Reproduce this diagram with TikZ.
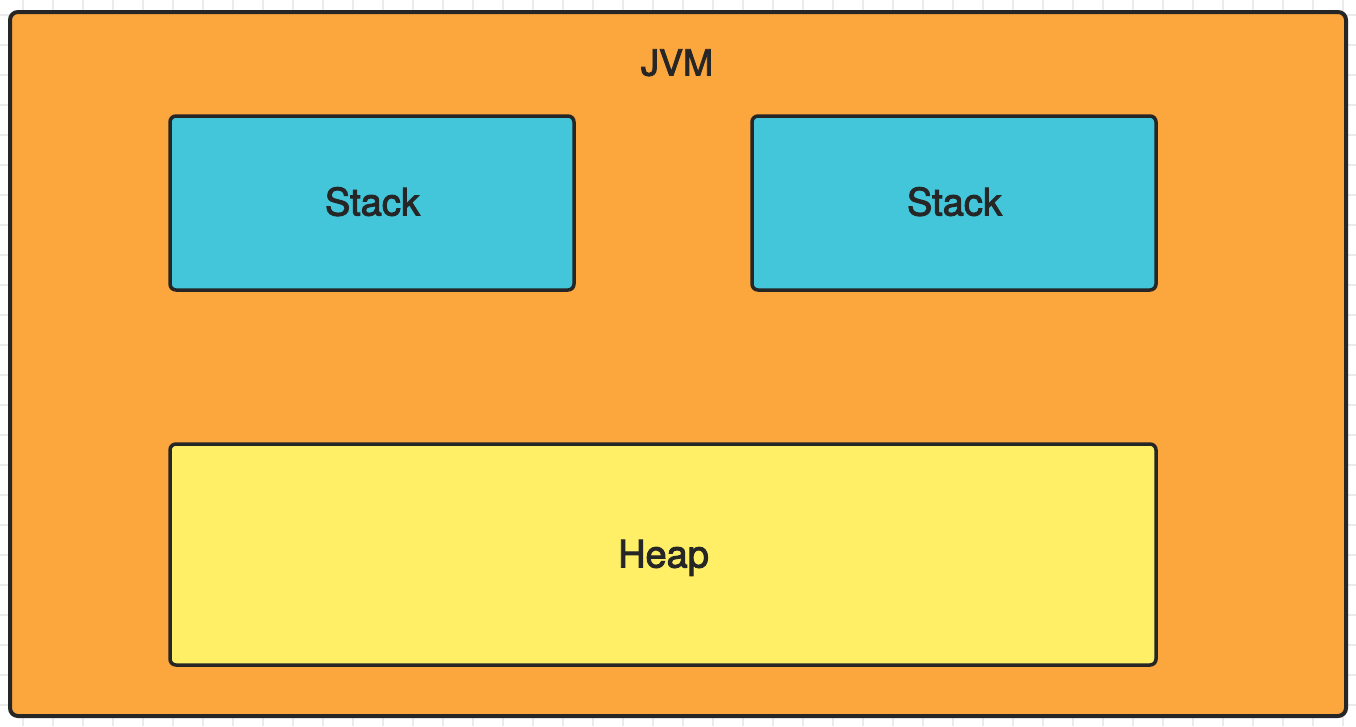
\documentclass[tikz,border=0pt]{standalone}
\usepackage{fontspec}
\setmainfont[FakeBold=2.5]{TeX Gyre Heros}
\definecolor{jvmorange}{HTML}{FCA73D}
\definecolor{stackblue}{HTML}{43C5DA}
\definecolor{heapyellow}{HTML}{FEEF66}
\definecolor{inkdark}{HTML}{262626}
\definecolor{gridgray}{HTML}{EBEBEB}
\tikzset{
  box/.style={draw=inkdark, line width=3.5pt, rounded corners=6pt, inner sep=0pt},
  lbl/.style={text=inkdark, font=\fontsize{38}{45}\selectfont, inner sep=0pt, anchor=base},
}
\begin{document}
\begin{tikzpicture}[x=1pt,y=-1pt]
\useasboundingbox (0,0) rectangle (1356,726);
\fill[white] (0,0) rectangle (1356,726);
\foreach \gx in {23,53,...,1356} \draw[gridgray, line width=1.2pt] (\gx,0) -- (\gx,726);
\foreach \gy in {15,45,...,726} \draw[gridgray, line width=1.2pt] (0,\gy) -- (1356,\gy);
\draw[box, fill=jvmorange, line width=4pt, rounded corners=8pt] (10,12) rectangle (1346,716);
\node[lbl, font=\fontsize{36}{43}\selectfont] (jvm) at (677,75.5) {JVM};
\node[box, fill=stackblue, minimum width=404pt, minimum height=174pt] (s1) at (372,203) {};
\node[box, fill=stackblue, minimum width=404pt, minimum height=174pt] (s2) at (954,203) {};
\node[box, fill=heapyellow, minimum width=986pt, minimum height=221pt] (heap) at (663,554.5) {};
\node[lbl] (s1t) at (372.5,215.5) {Stack};
\node[lbl] (s2t) at (954.5,215.5) {Stack};
\node[lbl] (heapt) at (663.5,567.5) {Heap};
\end{tikzpicture}
\end{document}
